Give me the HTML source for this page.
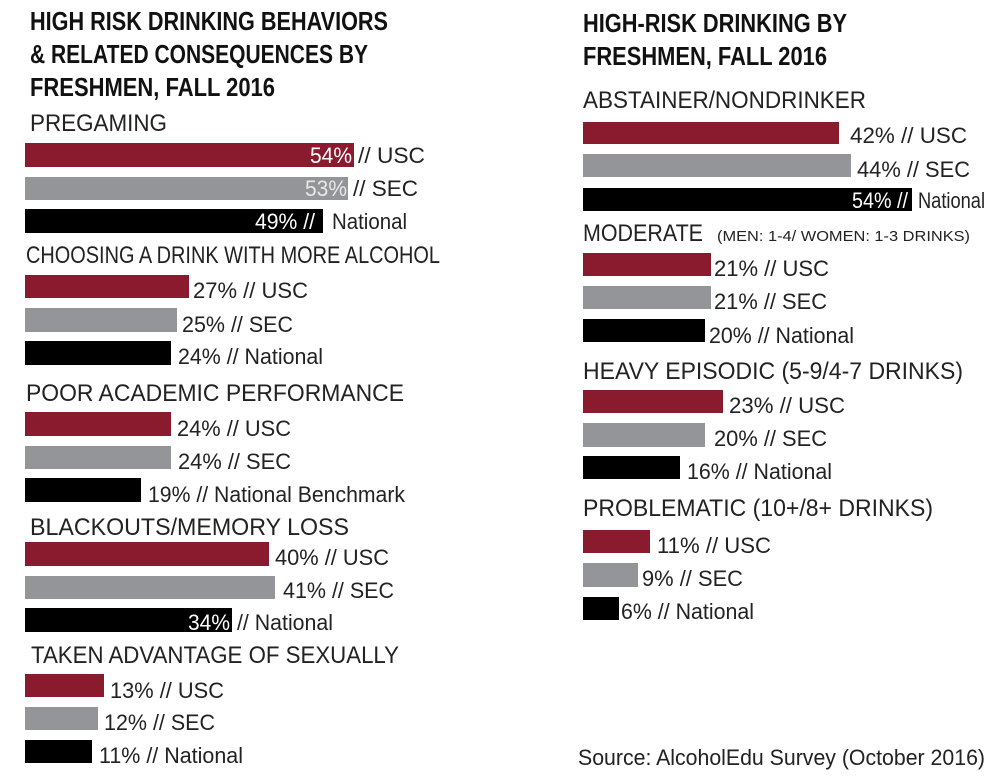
<!DOCTYPE html>
<html>
<head>
<meta charset="utf-8">
<style>
  html, body { margin: 0; padding: 0; background: #ffffff; }
  svg { display: block; }
  .t { font-family: "Liberation Sans", sans-serif; font-weight: bold; font-size: 26px; fill: #111; }
  .l { font-family: "Liberation Sans", sans-serif; font-size: 24px; fill: #222; }
  .v { font-family: "Liberation Sans", sans-serif; font-size: 22px; fill: #222; }
  .s { font-family: "Liberation Sans", sans-serif; font-size: 15px; fill: #222; }
  .w { fill: #ffffff; }
  .wg { fill: #e8e8e8; }
</style>
</head>
<body>
<svg width="1000" height="783" viewBox="0 0 1000 783" xmlns="http://www.w3.org/2000/svg">
  <rect width="1000" height="783" fill="#ffffff"/>

  <!-- LEFT PANEL -->
  <text class="t" x="30" y="30" textLength="358" lengthAdjust="spacingAndGlyphs">HIGH RISK DRINKING BEHAVIORS</text>
  <text class="t" x="30" y="63" textLength="338" lengthAdjust="spacingAndGlyphs">&amp; RELATED CONSEQUENCES BY</text>
  <text class="t" x="30" y="96" textLength="245" lengthAdjust="spacingAndGlyphs">FRESHMEN, FALL 2016</text>

  <!-- Pregaming -->
  <text class="l" x="30" y="131" textLength="137" lengthAdjust="spacingAndGlyphs">PREGAMING</text>
  <rect x="25" y="143" width="329" height="24" fill="#8a1a2d"/>
  <rect x="25" y="177" width="323" height="23" fill="#939598"/>
  <rect x="25" y="209" width="298" height="24" fill="#000000"/>
  <text class="v w" x="310" y="163" textLength="42" lengthAdjust="spacingAndGlyphs">54%</text>
  <text class="v" x="358" y="163" textLength="67" lengthAdjust="spacingAndGlyphs">// USC</text>
  <text class="v wg" x="305" y="196" textLength="42" lengthAdjust="spacingAndGlyphs">53%</text>
  <text class="v" x="353" y="196" textLength="65" lengthAdjust="spacingAndGlyphs">// SEC</text>
  <text class="v w" x="255" y="229" textLength="60" lengthAdjust="spacingAndGlyphs">49% //</text>
  <text class="v" x="332" y="229" textLength="75" lengthAdjust="spacingAndGlyphs">National</text>

  <!-- Choosing -->
  <text class="l" x="26" y="263" textLength="414" lengthAdjust="spacingAndGlyphs">CHOOSING A DRINK WITH MORE ALCOHOL</text>
  <rect x="25" y="275" width="164" height="23" fill="#8a1a2d"/>
  <rect x="25" y="308" width="152" height="24" fill="#939598"/>
  <rect x="25" y="341" width="146" height="24" fill="#000000"/>
  <text class="v" x="193" y="298" textLength="115" lengthAdjust="spacingAndGlyphs">27% // USC</text>
  <text class="v" x="182" y="332" textLength="111" lengthAdjust="spacingAndGlyphs">25% // SEC</text>
  <text class="v" x="178" y="364" textLength="145" lengthAdjust="spacingAndGlyphs">24% // National</text>

  <!-- Poor academic -->
  <text class="l" x="26" y="401" textLength="378" lengthAdjust="spacingAndGlyphs">POOR ACADEMIC PERFORMANCE</text>
  <rect x="25" y="412" width="146" height="24" fill="#8a1a2d"/>
  <rect x="25" y="446" width="146" height="23" fill="#939598"/>
  <rect x="25" y="478" width="116" height="24" fill="#000000"/>
  <text class="v" x="177" y="436" textLength="114" lengthAdjust="spacingAndGlyphs">24% // USC</text>
  <text class="v" x="178" y="469" textLength="113" lengthAdjust="spacingAndGlyphs">24% // SEC</text>
  <text class="v" x="148" y="502" textLength="257" lengthAdjust="spacingAndGlyphs">19% // National Benchmark</text>

  <!-- Blackouts -->
  <text class="l" x="30" y="535" textLength="319" lengthAdjust="spacingAndGlyphs">BLACKOUTS/MEMORY LOSS</text>
  <rect x="25" y="542" width="244" height="24" fill="#8a1a2d"/>
  <rect x="25" y="576" width="250" height="23" fill="#939598"/>
  <rect x="25" y="608" width="207" height="24" fill="#000000"/>
  <text class="v" x="275" y="565" textLength="114" lengthAdjust="spacingAndGlyphs">40% // USC</text>
  <text class="v" x="283" y="598" textLength="111" lengthAdjust="spacingAndGlyphs">41% // SEC</text>
  <text class="v w" x="188" y="630" textLength="42" lengthAdjust="spacingAndGlyphs">34%</text>
  <text class="v" x="237" y="630" textLength="96" lengthAdjust="spacingAndGlyphs">// National</text>

  <!-- Taken advantage -->
  <text class="l" x="31" y="663" textLength="368" lengthAdjust="spacingAndGlyphs">TAKEN ADVANTAGE OF SEXUALLY</text>
  <rect x="25" y="674" width="79" height="23" fill="#8a1a2d"/>
  <rect x="25" y="707" width="73" height="23" fill="#939598"/>
  <rect x="25" y="740" width="67" height="23" fill="#000000"/>
  <text class="v" x="110" y="698" textLength="114" lengthAdjust="spacingAndGlyphs">13% // USC</text>
  <text class="v" x="104" y="730" textLength="111" lengthAdjust="spacingAndGlyphs">12% // SEC</text>
  <text class="v" x="99" y="763" textLength="144" lengthAdjust="spacingAndGlyphs">11% // National</text>

  <!-- RIGHT PANEL -->
  <text class="t" x="583" y="32" textLength="264" lengthAdjust="spacingAndGlyphs">HIGH-RISK DRINKING BY</text>
  <text class="t" x="583" y="65" textLength="244" lengthAdjust="spacingAndGlyphs">FRESHMEN, FALL 2016</text>

  <!-- Abstainer -->
  <text class="l" x="583" y="108" textLength="283" lengthAdjust="spacingAndGlyphs">ABSTAINER/NONDRINKER</text>
  <rect x="583" y="122" width="256" height="22" fill="#8a1a2d"/>
  <rect x="583" y="154" width="268" height="23" fill="#939598"/>
  <rect x="583" y="188" width="329" height="23" fill="#000000"/>
  <text class="v" x="850" y="143" textLength="117" lengthAdjust="spacingAndGlyphs">42% // USC</text>
  <text class="v" x="857" y="177" textLength="113" lengthAdjust="spacingAndGlyphs">44% // SEC</text>
  <text class="v w" x="852" y="208" textLength="56" lengthAdjust="spacingAndGlyphs">54% //</text>
  <text class="v" x="918" y="208" textLength="67" lengthAdjust="spacingAndGlyphs">National</text>

  <!-- Moderate -->
  <text class="l" x="583" y="241" textLength="120" lengthAdjust="spacingAndGlyphs">MODERATE</text>
  <text class="s" x="717" y="241" textLength="253" lengthAdjust="spacingAndGlyphs">(MEN: 1-4/ WOMEN: 1-3 DRINKS)</text>
  <rect x="583" y="253" width="128" height="23" fill="#8a1a2d"/>
  <rect x="583" y="286" width="128" height="23" fill="#939598"/>
  <rect x="583" y="319" width="122" height="23" fill="#000000"/>
  <text class="v" x="714" y="276" textLength="115" lengthAdjust="spacingAndGlyphs">21% // USC</text>
  <text class="v" x="714" y="309" textLength="113" lengthAdjust="spacingAndGlyphs">21% // SEC</text>
  <text class="v" x="709" y="343" textLength="145" lengthAdjust="spacingAndGlyphs">20% // National</text>

  <!-- Heavy episodic -->
  <text class="l" x="583" y="379" textLength="380" lengthAdjust="spacingAndGlyphs">HEAVY EPISODIC (5-9/4-7 DRINKS)</text>
  <rect x="583" y="390" width="140" height="23" fill="#8a1a2d"/>
  <rect x="583" y="423" width="122" height="24" fill="#939598"/>
  <rect x="583" y="456" width="97" height="23" fill="#000000"/>
  <text class="v" x="729" y="413" textLength="116" lengthAdjust="spacingAndGlyphs">23% // USC</text>
  <text class="v" x="714" y="446" textLength="113" lengthAdjust="spacingAndGlyphs">20% // SEC</text>
  <text class="v" x="687" y="479" textLength="145" lengthAdjust="spacingAndGlyphs">16% // National</text>

  <!-- Problematic -->
  <text class="l" x="583" y="516" textLength="350" lengthAdjust="spacingAndGlyphs">PROBLEMATIC (10+/8+ DRINKS)</text>
  <rect x="583" y="530" width="67" height="23" fill="#8a1a2d"/>
  <rect x="583" y="563" width="55" height="24" fill="#939598"/>
  <rect x="583" y="597" width="36" height="23" fill="#000000"/>
  <text class="v" x="657" y="553" textLength="114" lengthAdjust="spacingAndGlyphs">11% // USC</text>
  <text class="v" x="642" y="586" textLength="101" lengthAdjust="spacingAndGlyphs">9% // SEC</text>
  <text class="v" x="621" y="619" textLength="133" lengthAdjust="spacingAndGlyphs">6% // National</text>

  <!-- Source -->
  <text class="v" x="578" y="765" textLength="407" lengthAdjust="spacingAndGlyphs">Source: AlcoholEdu Survey (October 2016)</text>
</svg>
</body>
</html>
